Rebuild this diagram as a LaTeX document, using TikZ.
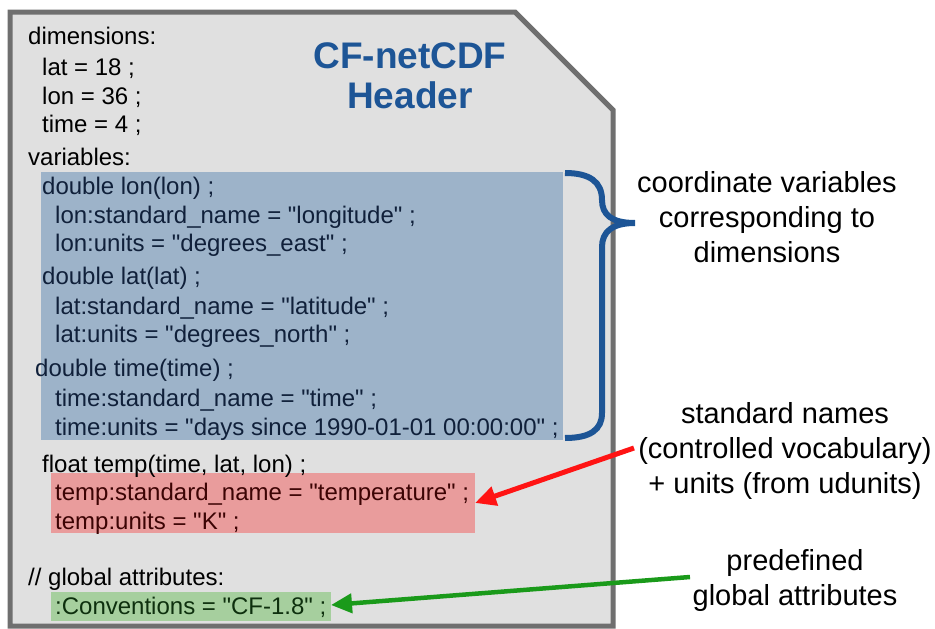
\documentclass[tikz,border=0pt]{standalone}
\usepackage{fontspec}
\setmainfont{Liberation Sans}[Ligatures=TeXOff]
\usetikzlibrary{arrows.meta}

\definecolor{sheetgray}{HTML}{E0E0E0}
\definecolor{rimgray}{HTML}{6F6F6F}
\definecolor{coordfill}{HTML}{9DB3C9}
\definecolor{namefill}{HTML}{E99C9C}
\definecolor{globfill}{HTML}{A6CF9E}
\definecolor{cfblue}{HTML}{1D5596}
\definecolor{coordtext}{HTML}{10203A}
\definecolor{nametext}{HTML}{3C0404}
\definecolor{globtext}{HTML}{0E300E}
\definecolor{arrowred}{HTML}{FF1414}
\definecolor{arrowgreen}{HTML}{1A9A1A}

\newcommand{\codesize}{\fontsize{24}{29}\selectfont}
\newcommand{\notesize}{\fontsize{29}{35}\selectfont}

\tikzset{
  codeline/.style={anchor=base west, inner sep=0pt, font=\codesize},
  noteline/.style={anchor=base, inner sep=0pt, font=\notesize, align=center},
  pointer/.style={line width=5pt, -{Triangle[length=21pt,width=19pt]}}
}

\begin{document}
\begin{tikzpicture}[x=1pt, y=-1pt]
  \useasboundingbox (0,0) rectangle (935,629);

  % sheet with cut corner
  \draw[line width=5pt, draw=rimgray, fill=sheetgray]
    (10,12) -- (515,12) -- (613,110) -- (613,626) -- (10,626) -- cycle;

  % highlighted blocks
  \fill[coordfill] (41,172) rectangle (563,440);
  \fill[namefill] (51,473) rectangle (475,533);
  \fill[globfill] (51,592) rectangle (331,621);

  % title
  \node[font=\bfseries\fontsize{37}{40}\selectfont, text=cfblue, align=center,
        inner sep=0pt] (title) at (410,76) {CF-netCDF\\Header};

  % header text
  \node[codeline] (dims) at (28,45) {dimensions:};
  \node[codeline] (dlat) at (42,75) {lat = 18 ;};
  \node[codeline] (dlon) at (42,104) {lon = 36 ;};
  \node[codeline] (dtime) at (42,132) {time = 4 ;};
  \node[codeline] (vars) at (28,165) {variables:};

  \node[codeline, text=coordtext] (vlon) at (42,194) {double lon(lon) ;};
  \node[codeline, text=coordtext] (vlonsn) at (55,223) {lon:standard\_name = "longitude" ;};
  \node[codeline, text=coordtext] (vlonun) at (55,251) {lon:units = "degrees\_east" ;};
  \node[codeline, text=coordtext] (vlat) at (42,284) {double lat(lat) ;};
  \node[codeline, text=coordtext] (vlatsn) at (55,314) {lat:standard\_name = "latitude" ;};
  \node[codeline, text=coordtext] (vlatun) at (55,342) {lat:units = "degrees\_north" ;};
  \node[codeline, text=coordtext] (vtime) at (35,376) {double time(time) ;};
  \node[codeline, text=coordtext] (vtimesn) at (55,406) {time:standard\_name = "time" ;};
  \node[codeline, text=coordtext] (vtimeun) at (55,435) {time:units = "days since 1990-01-01 00:00:00" ;};

  \node[codeline] (vtemp) at (42,472) {float temp(time, lat, lon) ;};
  \node[codeline, text=nametext] (vtempsn) at (55,500) {temp:standard\_name = "temperature" ;};
  \node[codeline, text=nametext] (vtempun) at (55,529) {temp:units = "K" ;};

  \node[codeline] (glob) at (28,585) {// global attributes:};
  \node[codeline, text=globtext] (conv) at (55,614) {:Conventions = "CF-1.8" ;};

  % brace over the coordinate variables
  \coordinate (bracetop) at (565,173);
  \coordinate (bracetip) at (635,223);
  \coordinate (bracebot) at (565,438);
  \draw[line width=6pt, cfblue]
    (bracetop) .. controls (590,173) and (602,182) .. (602,200)
    .. controls (602,215) and (612,223) .. (bracetip)
    .. controls (612,223) and (602,232) .. (602,247)
    -- (602,413) .. controls (602,430) and (590,438) .. (bracebot);

  % notes on the right (placed at the baseline of their last line)
  \node[noteline] (coordnote) at (767,262) {coordinate variables\\corresponding to\\dimensions};
  \node[noteline] (namenote) at (785,493) {standard names\\(controlled vocabulary)\\+ units (from udunits)};
  \node[noteline] (globnote) at (795,605) {predefined\\global attributes};

  % pointers
  \coordinate (namefrom) at (634,448);
  \coordinate (nameto) at (475,503);
  \coordinate (globfrom) at (690,577);
  \coordinate (globto) at (331,605);
  \draw[pointer, arrowred] (namefrom) -- (nameto);
  \draw[pointer, arrowgreen, line width=4.5pt] (globfrom) -- (globto);

\end{tikzpicture}
\end{document}
